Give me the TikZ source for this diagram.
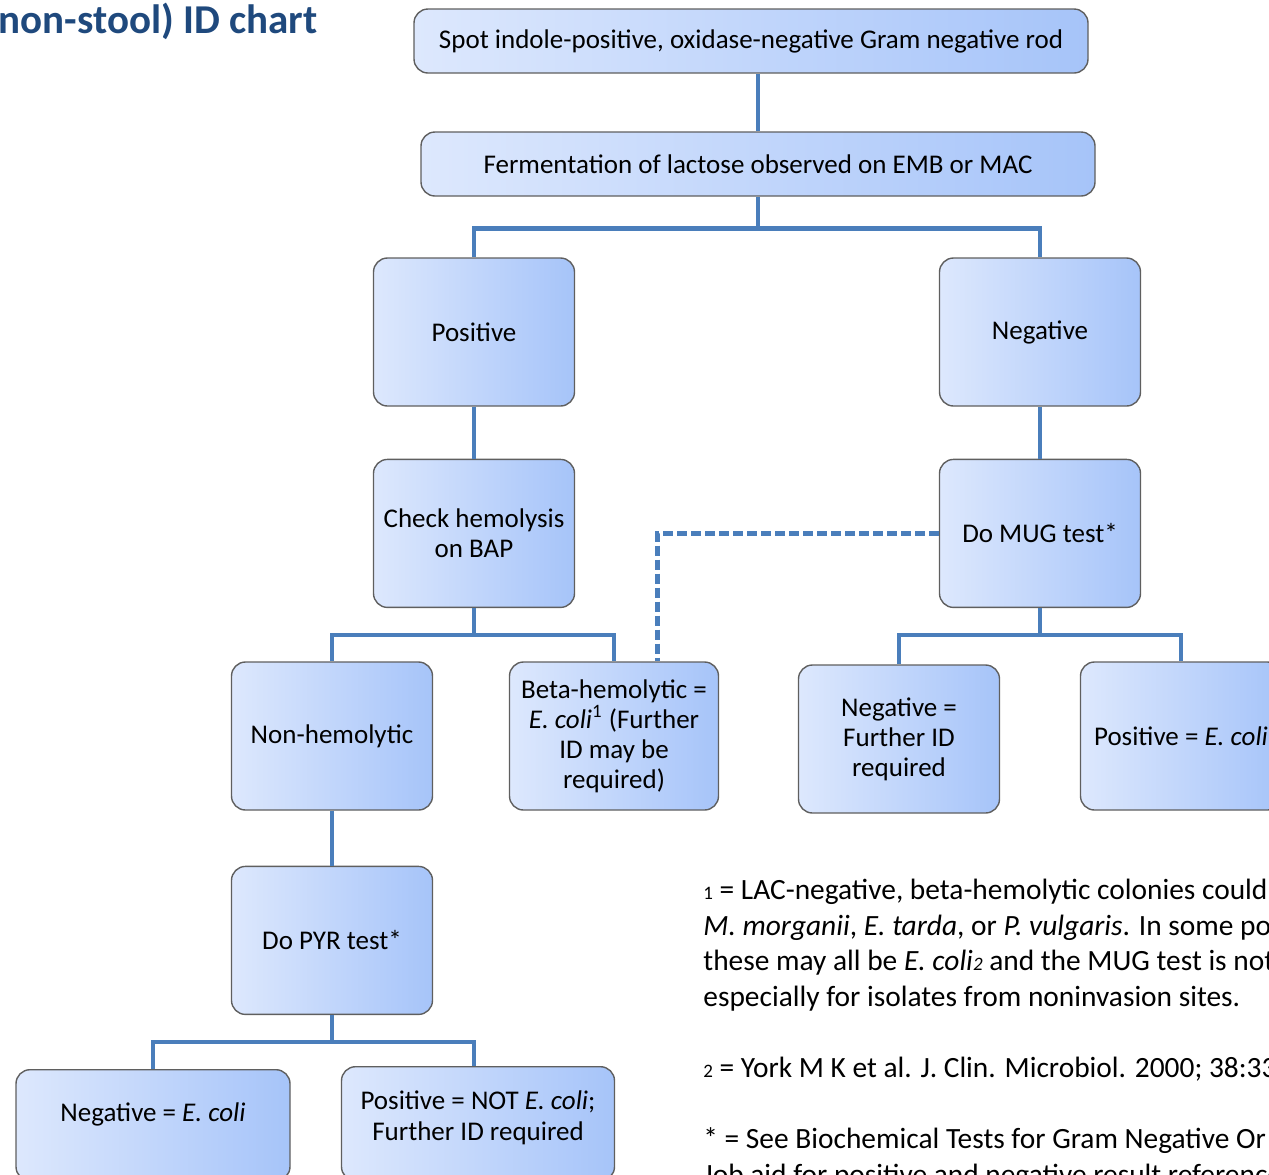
\documentclass[tikz,border=0pt]{standalone}
\usepackage{fontspec}
\setmainfont{Carlito}
\usepackage{xcolor}
\usetikzlibrary{positioning}

\definecolor{titleblue}{HTML}{1F497D}
\definecolor{linkblue}{HTML}{4A7EBB}
\definecolor{boxleft}{HTML}{DDE8FD}
\definecolor{boxright}{HTML}{A6C4F9}
\definecolor{boxedge}{HTML}{5F5F5F}

\begin{document}
\begin{tikzpicture}[
    x=0.5pt, y=-0.5pt,
    box/.style={rectangle, draw=boxedge, line width=0.7pt, rounded corners=7pt, left color=boxleft, right color=boxright, minimum width=100.5pt, minimum height=74pt, align=center, inner sep=2pt, font=\fontsize{13.5}{15}\selectfont},
    wide/.style={box, minimum width=337pt, minimum height=32pt},
    boxtext/.style={align=center, inner sep=0pt, font=\fontsize{13.5}{15.5}\selectfont},
    link/.style={draw=linkblue, line width=2.3pt},
    mugline/.style={draw=linkblue, line width=2.5pt, dash pattern=on 5pt off 2pt},
    note/.style={anchor=base west, inner sep=0pt, font=\fontsize{14.7}{17.75}\selectfont}
]
    \path[use as bounding box, clip] (0,0) rectangle (1269,1174);

    % Title
    \node[anchor=base east, inner sep=0pt, text=titleblue, font=\fontsize{20.5}{24}\selectfont\bfseries] (title) at (318,33) {non-stool) ID chart};

    % Top of the chart
    \node[wide] (spot) at (751,41) {Spot indole-positive, oxidase-negative Gram negative rod};
    \node[wide] (ferm) at (758,164) {Fermentation of lactose observed on EMB or MAC};

    % Lactose positive branch
    \node[box] (pos) at (474,332) {Positive};
    \node[box, below=26pt of pos] (check) {Check hemolysis\\on BAP};
    \node[box] (nonhem) at (332,736) {Non-hemolytic};
    \node[box, minimum width=104.5pt] (beta) at (614,736) {Beta-hemolytic =\\\textit{E. coli}\textsuperscript{1} (Further\\ID may be\\required)};
    \node[box, below=27.5pt of nonhem] (pyr) {Do PYR test*};
    \node[box, anchor=north, minimum width=137pt, minimum height=55.5pt,
          label={[boxtext, yshift=5.2pt]center:{Negative = \textit{E. coli}}}] (negecoli) at (153,1069) {};
    \node[box, anchor=north, minimum width=136.5pt, minimum height=57pt,
          label={[boxtext, yshift=3pt]center:{Positive = NOT \textit{E. coli};\\Further ID required}}] (posnot) at (478,1066) {};

    % Lactose negative branch
    \node[box] (neg) at (1040,332) {Negative};
    \node[box, below=26pt of neg] (mug) {Do MUG test*};
    \node[box] (negfurther) at (899,739) {Negative =\\Further ID\\required};
    \node[box] (posecoli) at (1181,736) {Positive = \textit{E. coli}};

    % Connectors
    \draw[link] (ferm.north) -- (ferm.north |- spot.south);
    \draw[link] (ferm.south) -- ++(0,32) -| (pos.north);
    \draw[link] (ferm.south) -- ++(0,32) -| (neg.north);
    \draw[link] (pos) -- (check);
    \draw[link] (neg) -- (mug);
    \draw[link] (check.south) -- ++(0,27) -| (nonhem.north);
    \draw[link] (check.south) -- ++(0,27) -| (beta.north);
    \draw[link] (mug.south) -- ++(0,27) -| (negfurther.north);
    \draw[link] (mug.south) -- ++(0,27) -| (posecoli.north);
    \draw[link] (nonhem) -- (pyr);
    \draw[link] (pyr.south) -- ++(0,27) -| (negecoli.north);
    \draw[link] (pyr.south) -- ++(0,27) -| ([xshift=-2pt]posnot.north);
    \draw[mugline] (mug.west) -| ([xshift=21.5pt]beta.north);

    % Footnotes
    \node[note] (note1a) at (703,899) {{\fontsize{9.5}{10}\selectfont 1} = LAC-negative, beta-hemolytic colonies could};
    \node[note] (note1b) at (703,935) {\textit{M. morganii}, \textit{E. tarda}, or \textit{P. vulgaris}. In some po};
    \node[note] (note1c) at (703,970) {these may all be \textit{E. coli}{\fontsize{9.5}{10}\selectfont\itshape 2} and the MUG test is not};
    \node[note] (note1d) at (703,1006) {especially for isolates from noninvasion sites.};
    \node[note] (note2) at (703,1077) {{\fontsize{9.5}{10}\selectfont 2} = York M K et al. J. Clin. Microbiol. 2000; 38:33};
    \node[note] (note3a) at (703,1148) {* = See Biochemical Tests for Gram Negative Or};
    \node[note] (note3b) at (703,1184) {Job aid for positive and negative result reference};
\end{tikzpicture}
\end{document}
